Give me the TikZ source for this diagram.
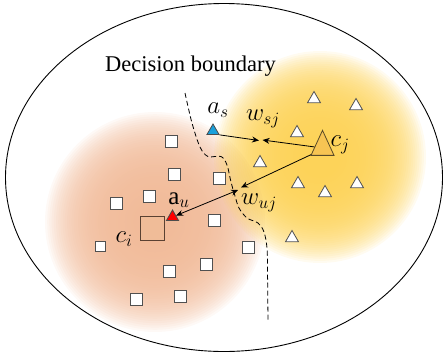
\documentclass[tikz,border=0pt]{standalone}
\usepackage{fontspec}
\setmainfont{Liberation Serif}
\usetikzlibrary{shapes.geometric,arrows.meta}
\definecolor{orangeblob}{RGB}{241,186,152}
\definecolor{yellowblob}{RGB}{253,210,86}
\definecolor{sqedge}{RGB}{80,80,80}
\definecolor{cisq}{RGB}{240,188,152}
\definecolor{ciedge}{RGB}{90,65,50}
\definecolor{cjfill}{RGB}{247,196,83}
\definecolor{cjedge}{RGB}{90,75,40}
\definecolor{bluetri}{RGB}{25,160,220}
\begin{document}
\begin{tikzpicture}[x=1pt,y=-1pt,
  sq/.style={draw=sqedge, fill=white, line width=0.9pt, minimum size=12pt, inner sep=0pt},
  tri/.style={regular polygon, regular polygon sides=3, draw=sqedge, fill=white, line width=0.8pt, minimum size=15pt, inner sep=0pt},
  lbl/.style={inner sep=0pt, font=\fontsize{25}{29}\selectfont},
  conn/.style={line width=0.8pt, -{Stealth[length=7pt,width=6pt]}},
  bconn/.style={line width=0.8pt, {Stealth[length=7pt,width=6pt]}-{Stealth[length=7pt,width=6pt]}},
]
\useasboundingbox (0,0) rectangle (444,356);
% shaded blobs
\foreach \k in {1,...,50}{\fill[orangeblob, opacity=0.085] (155,222) circle[radius={110pt*\k/50}];}
\foreach \k in {1,...,50}{\fill[yellowblob, opacity=0.085] (320,157) circle[radius={106pt*\k/50}];}
% outer ellipse
\draw[line width=0.9pt] (224,177.5) ellipse[x radius=218.5pt, y radius=174pt];
% title
\node[font=\fontsize{22.5}{26}\selectfont, inner sep=0pt] (title) at (190.5,66) {Decision boundary};
% decision boundary
\draw[dashed, dash pattern=on 5pt off 3pt, line width=0.8pt] plot[smooth, tension=0.55] coordinates {(185,93) (192,123) (200,147) (208,156.5) (221,156.5) (227,165) (231,182) (235,196) (239,208) (247,218) (258,223) (264,232) (267,248) (267.5,270) (268,322)};
% squares
\node[sq] (s1) at (171,141) {};
\node[sq] (s2) at (174,174) {};
\node[sq] (s3) at (219,178) {};
\node[sq] (s4) at (149,196) {};
\node[sq] (s5) at (116,203) {};
\node[sq] (s6) at (214,220) {};
\node[sq, minimum size=10pt] (s7) at (100,246) {};
\node[sq] (s8) at (248,247) {};
\node[sq] (s9) at (206,264) {};
\node[sq] (s10) at (169,271) {};
\node[sq] (s11) at (136,299) {};
\node[sq] (s12) at (180,296) {};
\node[sq, fill=cisq, draw=ciedge, minimum size=24pt] (ci) at (152,228.5) {};
% triangles
\node[tri] (t1) at (314,99) {};
\node[tri] (t2) at (356,106) {};
\node[tri] (t3) at (297,133) {};
\node[tri] (t4) at (260,163) {};
\node[tri] (t5) at (298,184) {};
\node[tri] (t6) at (325,193) {};
\node[tri] (t7) at (357,184) {};
\node[tri] (t8) at (292,238) {};
\node[isosceles triangle, isosceles triangle stretches, shape border rotate=90, minimum width=23pt, minimum height=25pt, inner sep=0pt, draw=cjedge, fill=cjfill, line width=0.8pt] (cj) at (322.5,148) {};
\node[tri, fill=bluetri, draw=black!70, minimum size=14pt] (as) at (213,131) {};
\node[tri, fill=red, draw=black!70, minimum size=14pt] (au) at (172.5,217) {};
% meeting points
\coordinate (m1) at (259,140.5);
\coordinate (m2) at (262.5,140);
\coordinate (m3) at (241,187.5);
\coordinate (m4) at (238,190);
% connectors
\draw[conn] (as.corner 3) -- (m1);
\draw[conn] (cj) -- (m2);
\draw[conn] (cj.210) -- (m3);
\draw[bconn] (au) -- (m4);
% labels
\node[lbl] (las) at (218,110) {$a_s$};
\node[lbl] (lwsj) at (263,119) {$w_{sj}$};
\node[lbl] (lcj) at (340,145) {$c_j$};
\node[lbl] (lau) at (179,200) {$\mathrm{a}_u$};
\node[lbl] (lwuj) at (259,203) {$w_{uj}$};
\node[lbl] (lci) at (124,239) {$c_i$};
\end{tikzpicture}
\end{document}
